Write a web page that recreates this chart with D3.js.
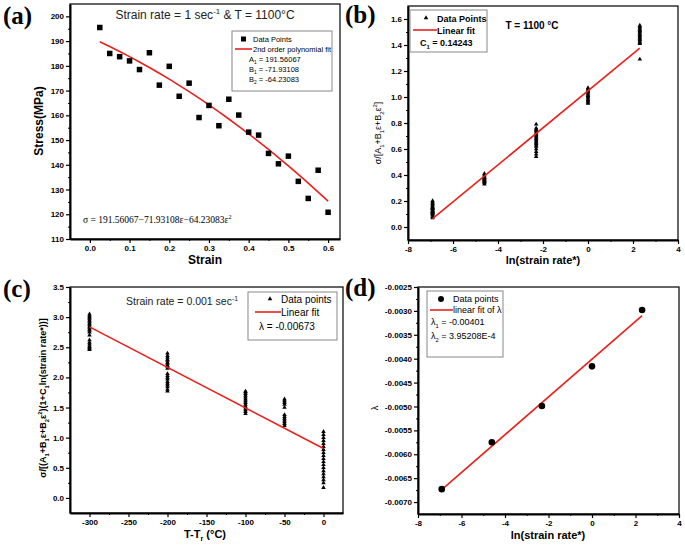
<!DOCTYPE html>
<html><head><meta charset="utf-8">
<script src="https://cdn.jsdelivr.net/npm/d3@7"></script>
<style>body{margin:0;background:#fff}svg{display:block;font-family:"Liberation Sans",Arial,sans-serif}</style>
</head><body>
<svg id="c" width="685" height="551"></svg>
<script>
// ---------- DATA ----------
// (a)
const aStrain = [0.025,0.05,0.075,0.1,0.125,0.15,0.175,0.2,0.225,0.25,0.275,0.3,0.325,0.35,0.375,0.4,0.425,0.45,0.475,0.5,0.525,0.55,0.575,0.6];
const aStress = [195.5,185,183.7,182,178.5,185.3,172.2,179.8,167.7,173,159.1,164,155.8,166.5,160.1,153.2,152,144.6,140.4,143.5,133.3,126.4,137.8,120.8];
const aFitCoef = [191.56067,-71.93108,-64.23083];
const aXTicks = [0,0.1,0.2,0.3,0.4,0.5,0.6];
const aYTicks = [110,120,130,140,150,160,170,180,190,200];
// (b)
const bLnRate = [-6.908,-4.605,-2.303,0,2.303];
const bValues = [
  [0.07,0.08,0.09,0.10,0.10,0.11,0.11,0.12,0.12,0.13,0.13,0.14,0.14,0.15,0.15,0.16,0.17,0.18,0.19,0.20],
  [0.33,0.34,0.35,0.35,0.36,0.36,0.37,0.37,0.38,0.38,0.39,0.40,0.41],
  [0.54,0.56,0.58,0.60,0.62,0.63,0.64,0.65,0.66,0.67,0.68,0.69,0.70,0.71,0.72,0.73,0.74,0.75,0.76,0.79],
  [0.95,0.96,0.97,0.98,0.99,1.00,1.01,1.02,1.03,1.04,1.05,1.06,1.07],
  [1.29,1.41,1.42,1.43,1.44,1.45,1.46,1.47,1.48,1.49,1.50,1.51,1.52,1.53,1.54,1.55]
];
const bFit = {intercept:1.048, slope:0.14243, from:-6.908, to:2.303};
const bXTicks = [-8,-6,-4,-2,0,2,4];
const bYTicks = [0,0.2,0.4,0.6,0.8,1.0,1.2,1.4,1.6];
// (c)
const cTemp = [-300,-200,-100,-50,0];
const cValues = [
  [2.46,2.48,2.50,2.52,2.55,2.58,2.62,2.70,2.75,2.78,2.80,2.83,2.85,2.88,2.90,2.93,2.95,2.98,3.00,3.02,3.05],
  [1.77,1.80,1.84,1.87,1.90,1.93,1.97,2.00,2.03,2.06,2.15,2.18,2.20,2.23,2.25,2.28,2.30,2.33,2.36,2.40],
  [1.40,1.43,1.46,1.49,1.52,1.55,1.58,1.61,1.64,1.67,1.70,1.73,1.76,1.77],
  [1.20,1.23,1.26,1.29,1.32,1.35,1.38,1.50,1.55,1.58,1.61,1.64],
  [0.17,0.25,0.30,0.35,0.40,0.45,0.50,0.55,0.60,0.65,0.70,0.75,0.80,0.85,0.90,0.95,1.00,1.05,1.10]
];
const cFit = {intercept:0.82, slope:-0.00673, from:-300, to:0};
const cXTicks = [-300,-250,-200,-150,-100,-50,0];
const cYTicks = [0,0.5,1.0,1.5,2.0,2.5,3.0,3.5];
// (d)
const dLnRate = [-6.908,-4.605,-2.303,0,2.303];
const dLambda = [-0.00673,-0.00575,-0.00499,-0.00416,-0.00298];
const dFit = {intercept:-0.00401, slope:3.95208e-4, from:-6.908, to:2.303};
const dXTicks = [-8,-6,-4,-2,0,2,4];
const dYTicks = [-0.0070,-0.0065,-0.0060,-0.0055,-0.0050,-0.0045,-0.0040,-0.0035,-0.0030,-0.0025];

// ---------- DRAW ----------
const svg = d3.select('#c');
const hy = s => s.replace(/\u2212/g,'-');
const SERIF = '"Liberation Serif","Times New Roman",serif';
const RED = '#e8211c';

function rich(sel, parts, fs){
  let cur = 0;
  parts.forEach(p => {
    const [t,m] = typeof p === 'string' ? [p,''] : p;
    const target = m==='sub' ? fs*0.3 : m==='sup' ? -fs*0.4 : 0;
    const ts = sel.append('tspan').text(t).attr('dy', target-cur);
    if (m) ts.attr('font-size', fs*0.65);
    cur = target;
  });
  return sel;
}

function panel(cfg){
  const g = svg.append('g');
  const x = d3.scaleLinear().domain(cfg.xd).range([cfg.x0,cfg.x1]);
  const y = d3.scaleLinear().domain(cfg.yd).range([cfg.y1,cfg.y0]);
  g.append('rect').attr('x',cfg.x0).attr('y',cfg.y0).attr('width',cfg.x1-cfg.x0).attr('height',cfg.y1-cfg.y0)
    .attr('fill','none').attr('stroke','#000').attr('stroke-width',1.2);
  const xm = d3.range(cfg.xTicks.length-1).map(i => (cfg.xTicks[i]+cfg.xTicks[i+1])/2);
  const ym = d3.range(cfg.yTicks.length-1).map(i => (cfg.yTicks[i]+cfg.yTicks[i+1])/2);
  const xAx = g.append('g').attr('transform',`translate(0,${cfg.y1})`)
    .call(d3.axisBottom(x).tickValues(cfg.xTicks).tickSize(4).tickSizeOuter(0).tickPadding(2).tickFormat(d=>hy(cfg.xf(d))));
  g.append('g').attr('transform',`translate(0,${cfg.y1})`)
    .call(d3.axisBottom(x).tickValues(xm).tickSize(2).tickSizeOuter(0).tickFormat(''))
    .select('.domain').remove();
  const yAx = g.append('g').attr('transform',`translate(${cfg.x0},0)`)
    .call(d3.axisLeft(y).tickValues(cfg.yTicks).tickSize(4).tickSizeOuter(0).tickPadding(2).tickFormat(d=>hy(cfg.yf(d))));
  g.append('g').attr('transform',`translate(${cfg.x0},0)`)
    .call(d3.axisLeft(y).tickValues(ym).tickSize(2).tickSizeOuter(0).tickFormat(''))
    .select('.domain').remove();
  [xAx,yAx].forEach(a=>{
    a.attr('font-family',null).attr('font-size',null);
    a.select('.domain').attr('stroke-width',2);
    a.selectAll('.tick line').attr('stroke-width',1.2);
    a.selectAll('.tick text').attr('font-size',8).attr('font-weight','bold').attr('fill','#000');
  });
  g.selectAll('.tick line').attr('stroke','#000');
  g.selectAll('.domain').attr('stroke','#000');
  svg.append('text').attr('x',cfg.lx).attr('y',cfg.ly).text(cfg.letter)
    .style('font-family',SERIF).attr('font-weight','bold').attr('font-size',25);
  return {g,x,y};
}

function legendBox(x,y,w,h){
  svg.append('rect').attr('x',x).attr('y',y).attr('width',w).attr('height',h)
    .attr('fill','#fff').attr('stroke','#888').attr('stroke-width',1);
}

const f1 = d3.format('.1f'), f0 = d3.format('d'), f4 = d3.format('.4f');
const tri = d3.symbol().type(d3.symbolTriangle).size(9);
const lineGen = (x,y,f) => `M${x(f.from)},${y(f.intercept+f.slope*f.from)}L${x(f.to)},${y(f.intercept+f.slope*f.to)}`;

// ---- (a)
{
  const {g,x,y} = panel({x0:70,x1:340,y0:4,y1:239,xd:[-0.05,0.63],yd:[110,205],
    xTicks:aXTicks,yTicks:aYTicks,xf:f1,yf:f0,letter:'(a)',lx:3,ly:24});
  const fit = aStrain.map(s => [s, aFitCoef[0]+aFitCoef[1]*s+aFitCoef[2]*s*s]);
  g.append('path').datum(fit).attr('fill','none').attr('stroke',RED).attr('stroke-width',1.6)
    .attr('d',d3.line().x(d=>x(d[0])).y(d=>y(d[1])));
  g.selectAll(null).data(aStrain).join('rect').attr('width',5.5).attr('height',5.5)
    .attr('x',d=>x(d)-2.75).attr('y',(d,i)=>y(aStress[i])-2.75).attr('fill','#000');
  rich(svg.append('text').attr('x',205).attr('y',19).attr('text-anchor','middle').attr('font-size',12).attr('fill','#222'),
    ['Strain rate = 1 sec',['-1','sup'],' & T = 1100°C'],12);
  svg.append('text').attr('transform','translate(43,121) rotate(-90)').attr('text-anchor','middle')
    .attr('font-size',12).attr('font-weight','bold').text('Stress(MPa)');
  svg.append('text').attr('x',205).attr('y',264).attr('text-anchor','middle')
    .attr('font-size',12).attr('font-weight','bold').text('Strain');
  legendBox(232,31,100,60);
  svg.append('rect').attr('x',241).attr('y',36.5).attr('width',5).attr('height',5).attr('fill','#000');
  svg.append('line').attr('x1',235).attr('x2',252).attr('y1',49).attr('y2',49).attr('stroke',RED).attr('stroke-width',1.6);
  const lf=7.5;
  svg.append('text').attr('x',253).attr('y',42).attr('font-size',lf).text('Data Points');
  svg.append('text').attr('x',253).attr('y',52).attr('font-size',lf).text('2nd order polynomial fit');
  rich(svg.append('text').attr('x',249).attr('y',62).attr('font-size',lf),['A',['1','sub'],' = 191.56067'],lf);
  rich(svg.append('text').attr('x',249).attr('y',72).attr('font-size',lf),['B',['1','sub'],' = -71.93108'],lf);
  rich(svg.append('text').attr('x',249).attr('y',82).attr('font-size',lf),['B',['2','sub'],' = -64.23083'],lf);
  rich(svg.append('text').attr('x',83).attr('y',223).attr('font-size',9.5).style('font-family',SERIF),
    ['σ = 191.56067−71.93108ε−64.23083ε',['2','sup']],9.5);
}

// ---- (b)
{
  const {g,x,y} = panel({x0:408,x1:678,y0:6,y1:240,xd:[-8,4],yd:[-0.1,1.7],
    xTicks:bXTicks,yTicks:bYTicks,xf:f0,yf:f1,letter:'(b)',lx:345,ly:23});
  bLnRate.forEach((lr,i)=>{
    g.selectAll(null).data(bValues[i]).join('path').attr('d',tri)
      .attr('transform',d=>`translate(${x(lr)},${y(d)})`).attr('fill','#000');
  });
  g.append('path').attr('d',lineGen(x,y,bFit)).attr('stroke',RED).attr('stroke-width',1.6).attr('fill','none');
  svg.append('text').attr('x',532).attr('y',29).attr('text-anchor','middle').attr('font-size',10).attr('font-weight','bold').text('T = 1100 °C');
  rich(svg.append('text').attr('transform','translate(381,133) rotate(-90)').attr('text-anchor','middle').attr('font-size',9),
    ['σ/[A',['1','sub'],'+B',['1','sub'],'ε+B',['2','sub'],'ε',['2','sup'],']'],9);
  svg.append('text').attr('x',543).attr('y',264).attr('text-anchor','middle')
    .attr('font-size',11).attr('font-weight','bold').text('ln(strain rate*)');
  legendBox(410,10,77,42);
  svg.append('path').attr('d',tri).attr('transform','translate(426,18)').attr('fill','#000');
  svg.append('line').attr('x1',413).attr('x2',437).attr('y1',30).attr('y2',30).attr('stroke',RED).attr('stroke-width',1.6);
  svg.append('text').attr('x',437).attr('y',21.5).attr('font-size',9).attr('font-weight','bold').text('Data Points');
  svg.append('text').attr('x',437).attr('y',33.5).attr('font-size',9).attr('font-weight','bold').text('Linear fit');
  rich(svg.append('text').attr('x',420).attr('y',46).attr('font-size',9).attr('font-weight','bold'),['C',['1','sub'],' = 0.14243'],9);
}

// ---- (c)
{
  const {g,x,y} = panel({x0:70,x1:343,y0:287,y1:513,xd:[-325,25],yd:[-0.25,3.5],
    xTicks:cXTicks,yTicks:cYTicks,xf:f0,yf:f1,letter:'(c)',lx:3,ly:297});
  cTemp.forEach((t,i)=>{
    g.selectAll(null).data(cValues[i]).join('path').attr('d',tri)
      .attr('transform',d=>`translate(${x(t)},${y(d)})`).attr('fill','#000');
  });
  g.append('path').attr('d',lineGen(x,y,cFit)).attr('stroke',RED).attr('stroke-width',1.6).attr('fill','none');
  rich(svg.append('text').attr('x',182).attr('y',305).attr('text-anchor','middle').attr('font-size',10.5).attr('fill','#222'),
    ['Strain rate = 0.001 sec',['-1','sup']],10.5);
  rich(svg.append('text').attr('transform','translate(46,398) rotate(-90)').attr('text-anchor','middle').attr('font-size',9).attr('font-weight','bold'),
    ['σ/[(A',['1','sub'],'+B',['1','sub'],'ε+B',['2','sub'],'ε',['2','sup'],')(1+C',['1','sub'],'ln(strain rate*))]'],9);
  rich(svg.append('text').attr('x',205).attr('y',538).attr('text-anchor','middle').attr('font-size',11).attr('font-weight','bold'),
    ['T-T',['r','sub'],' (°C)'],11);
  legendBox(248,292,89,48);
  svg.append('path').attr('d',tri).attr('transform','translate(270,299)').attr('fill','#000');
  svg.append('line').attr('x1',255).attr('x2',281).attr('y1',312).attr('y2',312).attr('stroke',RED).attr('stroke-width',1.6);
  svg.append('text').attr('x',281).attr('y',302.5).attr('font-size',10).text('Data points');
  svg.append('text').attr('x',281).attr('y',315.5).attr('font-size',10).text('Linear fit');
  svg.append('text').attr('x',259).attr('y',330).attr('font-size',10).text('λ = -0.00673');
}

// ---- (d)
{
  const {g,x,y} = panel({x0:418,x1:679,y0:287,y1:514,xd:[-8,4],yd:[-0.00725,-0.0025],
    xTicks:dXTicks,yTicks:dYTicks,xf:f0,yf:f4,letter:'(d)',lx:345,ly:296});
  g.append('path').attr('d',lineGen(x,y,dFit)).attr('stroke',RED).attr('stroke-width',1.6).attr('fill','none');
  g.selectAll(null).data(dLnRate).join('circle').attr('cx',d=>x(d)).attr('cy',(d,i)=>y(dLambda[i])).attr('r',3.3).attr('fill','#000');
  svg.append('text').attr('transform','translate(378,408) rotate(-90)').attr('text-anchor','middle').attr('font-size',9).text('λ');
  svg.append('text').attr('x',548).attr('y',539).attr('text-anchor','middle')
    .attr('font-size',11).attr('font-weight','bold').text('ln(strain rate*)');
  legendBox(427,291,76,66);
  svg.append('circle').attr('cx',441).attr('cy',299).attr('r',3).attr('fill','#000');
  svg.append('line').attr('x1',430).attr('x2',453).attr('y1',310).attr('y2',310).attr('stroke',RED).attr('stroke-width',1.6);
  svg.append('text').attr('x',453).attr('y',302).attr('font-size',9).text('Data points');
  svg.append('text').attr('x',453).attr('y',313).attr('font-size',9).text('linear fit of λ');
  rich(svg.append('text').attr('x',431).attr('y',325).attr('font-size',9),['λ',['1','sub'],' = -0.00401'],9);
  rich(svg.append('text').attr('x',431).attr('y',339).attr('font-size',9),['λ',['2','sub'],' = 3.95208E-4'],9);
}
</script>
</body></html>
